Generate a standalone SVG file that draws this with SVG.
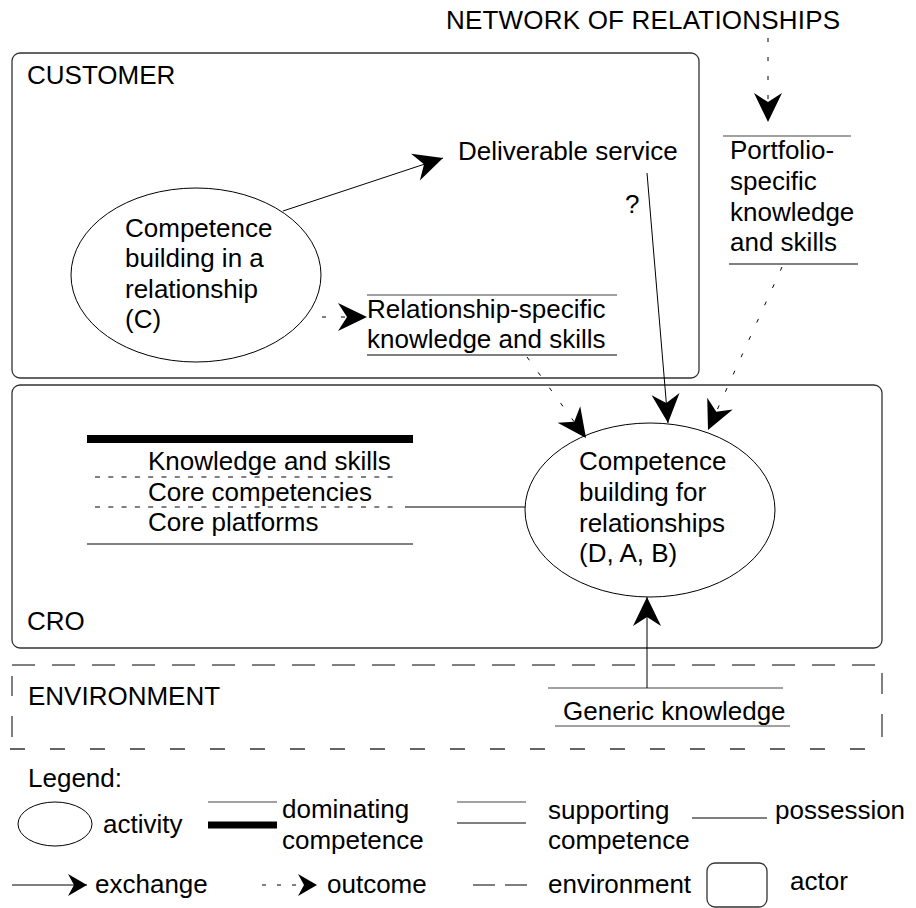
<svg xmlns="http://www.w3.org/2000/svg" width="916" height="908" viewBox="0 0 916 908">
<style>
text{font-family:"Liberation Sans",Arial,sans-serif;font-size:26px;fill:#000}
.box{fill:none;stroke:#333;stroke-width:1.3}
.ln{stroke:#000;stroke-width:1;fill:none}
.gl{stroke:#444;stroke-width:1.2;fill:none}
.dot{stroke:#000;stroke-width:1;fill:none;stroke-dasharray:4 15}
.ell{fill:#fff;stroke:#000;stroke-width:1}
</style>
<defs>
<marker id="ah" markerUnits="userSpaceOnUse" markerWidth="34" markerHeight="34" viewBox="-32 -17 34 34" refX="0" refY="0" orient="auto" overflow="visible"><path d="M0,0 L-29,-14 L-20,0 L-29,14 Z" fill="#000"/></marker>
<marker id="ahs" markerUnits="userSpaceOnUse" markerWidth="24" markerHeight="26" viewBox="-22 -13 24 26" refX="0" refY="0" orient="auto" overflow="visible"><path d="M0,0 L-19,-11 L-13,0 L-19,11 Z" fill="#000"/></marker>
</defs>
<rect width="916" height="908" fill="#fff"/>

<g id="network"><text x="446" y="29" textLength="394">NETWORK OF RELATIONSHIPS</text></g>

<g id="customer">
<rect class="box" x="12" y="53" width="687" height="325" rx="8"/>
<text x="27" y="84">CUSTOMER</text>
</g>

<g id="cro">
<rect class="box" x="12" y="385" width="870" height="263" rx="8"/>
<text x="27" y="630">CRO</text>
</g>

<g id="environment">
<line class="ln" x1="12" y1="665" x2="882" y2="665" stroke-dasharray="23 17"/>
<line x1="10" y1="749" x2="882" y2="749" stroke="#666" stroke-width="2" stroke-dasharray="15 25"/>
<line class="ln" x1="12" y1="676" x2="12" y2="696"/>
<line class="ln" x1="12" y1="716" x2="12" y2="737"/>
<line class="ln" x1="882" y1="673" x2="882" y2="694"/>
<line class="ln" x1="882" y1="714" x2="882" y2="737"/>
<text x="28" y="705">ENVIRONMENT</text>
</g>

<g id="competence-c">
<ellipse class="ell" cx="196" cy="275" rx="125" ry="87"/>
<text x="125" y="237">Competence</text>
<text x="125" y="267">building in a</text>
<text x="125" y="298">relationship</text>
<text x="125" y="328">(C)</text>
</g>

<g id="deliverable"><text x="458" y="160">Deliverable service</text></g>

<g id="relationship-specific">
<line class="gl" x1="367" y1="295" x2="617" y2="295"/>
<text x="367" y="318">Relationship-specific</text>
<text x="367" y="348">knowledge and skills</text>
<line class="ln" x1="367" y1="355" x2="617" y2="355"/>
</g>

<g id="portfolio">
<line class="gl" x1="723" y1="136" x2="851" y2="136"/>
<text x="730" y="159">Portfolio-</text>
<text x="730" y="190">specific</text>
<text x="730" y="221">knowledge</text>
<text x="730" y="251">and skills</text>
<line class="ln" x1="729" y1="264" x2="858" y2="264"/>
</g>

<g id="question"><text x="625" y="213">?</text></g>

<g id="knowledge-list">
<line x1="87" y1="439" x2="413" y2="439" stroke="#000" stroke-width="8"/>
<text x="148" y="470">Knowledge and skills</text>
<line class="ln" x1="95" y1="477" x2="395" y2="477" stroke-dasharray="5 8.3"/>
<text x="148" y="501">Core competencies</text>
<line class="ln" x1="95" y1="507" x2="398" y2="507" stroke-dasharray="5 8.3"/>
<text x="148" y="531">Core platforms</text>
<line class="ln" x1="87" y1="544" x2="413" y2="544"/>
</g>

<g id="competence-cro">
<ellipse class="ell" cx="650" cy="510" rx="125" ry="87"/>
<text x="579" y="470">Competence</text>
<text x="579" y="501">building for</text>
<text x="579" y="532">relationships</text>
<text x="579" y="562">(D, A, B)</text>
</g>

<g id="generic">
<line class="gl" x1="548" y1="688" x2="783" y2="688"/>
<text x="563" y="720">Generic knowledge</text>
<line class="gl" x1="555" y1="726" x2="790" y2="726"/>
</g>

<g id="connectors">
<line class="ln" x1="283" y1="211" x2="443" y2="158" marker-end="url(#ah)"/>
<line class="dot" x1="322" y1="317" x2="367" y2="317" marker-end="url(#ah)"/>
<line class="dot" x1="768" y1="38" x2="768" y2="122" marker-end="url(#ah)"/>
<line class="ln" x1="647" y1="173" x2="668" y2="423" marker-end="url(#ah)"/>
<line class="dot" x1="527" y1="357" x2="586" y2="438" marker-end="url(#ah)"/>
<line class="dot" x1="782" y1="267" x2="708" y2="430" marker-end="url(#ah)"/>
<line class="ln" x1="405" y1="507" x2="525" y2="507"/>
<line class="ln" x1="647" y1="688" x2="647" y2="597" marker-end="url(#ah)"/>
</g>

<g id="legend">
<text x="28" y="787">Legend:</text>
<ellipse class="ell" cx="55" cy="824" rx="37" ry="22"/>
<text x="103" y="833">activity</text>
<line class="gl" x1="208" y1="802" x2="277" y2="802"/>
<line x1="208" y1="825" x2="277" y2="825" stroke="#000" stroke-width="7"/>
<text x="282" y="818">dominating</text>
<text x="282" y="849">competence</text>
<line class="gl" x1="457" y1="802" x2="526" y2="802"/>
<line class="ln" x1="457" y1="823" x2="526" y2="823"/>
<text x="548" y="819">supporting</text>
<text x="548" y="849">competence</text>
<line class="ln" x1="692" y1="818" x2="767" y2="818"/>
<text x="775" y="819">possession</text>
<line class="ln" x1="12" y1="885" x2="87" y2="885" marker-end="url(#ahs)"/>
<text x="95" y="893">exchange</text>
<line class="ln" x1="262" y1="885" x2="317" y2="885" stroke-dasharray="4 11" marker-end="url(#ahs)"/>
<text x="327" y="893">outcome</text>
<line class="ln" x1="473" y1="885" x2="527" y2="885" stroke-dasharray="22 10"/>
<text x="548" y="893">environment</text>
<rect class="box" x="707" y="863" width="60" height="44" rx="8"/>
<text x="790" y="890">actor</text>
</g>
</svg>
